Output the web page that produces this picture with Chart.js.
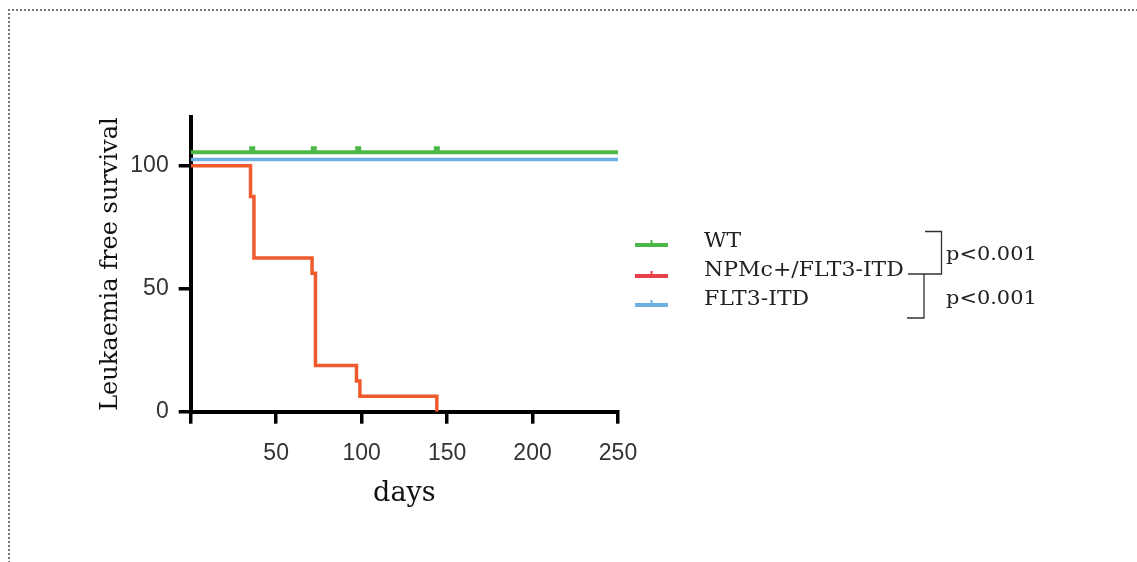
<!DOCTYPE html>
<html>
<head>
<meta charset="utf-8">
<script src="https://cdn.jsdelivr.net/npm/chart.js@4.4.1/dist/chart.umd.min.js"></script>
<style>
  html, body { margin: 0; padding: 0; background: #fff; overflow: hidden; }
  #frame { position: absolute; left: 8px; top: 9px; width: 1300px; height: 700px;
           border-top: 2px dotted #777; border-left: 2px dotted #777; }
  #wrap { position: absolute; left: 0; top: 0; width: 1137px; height: 562px; }
</style>
</head>
<body>
<div id="frame"></div>
<div id="wrap"><canvas id="km"></canvas></div>
<script>
// Kaplan-Meier data
var wtDays = [0, 250];
var wtSurvival = [105.5, 105.5];
var wtCensorDays = [36, 72, 98, 144];

var npmDays = [0, 35, 37, 71, 73, 97, 99, 144];
var npmSurvival = [100, 87.5, 62.5, 56.25, 18.75, 12.5, 6.25, 0];

var flt3Days = [0, 250];
var flt3Survival = [102.5, 102.5];

var xTicks = [0, 50, 100, 150, 200, 250];
var yTicks = [0, 50, 100];

var seriesNames = ['WT', 'NPMc+/FLT3-ITD', 'FLT3-ITD'];
var pValues = ['p<0.001', 'p<0.001'];

var GREEN = '#4cb847';
var RED_LINE = '#f05a2c';
var RED_KEY = '#e84048';
var BLUE = '#6fb0e2';
var SERIF = '"DejaVu Serif", "Liberation Serif", serif';
var SANS = '"Liberation Sans", Arial, sans-serif';

function toPoints(xs, ys) {
    var pts = [];
    for (let i = 0; i < xs.length; i++) {
        pts.push({ x: xs[i], y: ys[i] });
    }
    return pts;
}

// the source font is wider than DejaVu Serif, so stretch it a bit
function wideText(ctx, text, x, y, size) {
    ctx.save();
    ctx.translate(x, y);
    ctx.scale(1.1, 1);
    ctx.font = size + 'px ' + SERIF;
    ctx.textBaseline = 'middle';
    ctx.textAlign = 'left';
    ctx.fillText(text, 0, 0);
    ctx.restore();
}

// legend with tick marks, brackets and p values on the right
var sideLegend = {
    id: 'sideLegend',
    afterDraw: function (chart) {
        var ctx = chart.ctx;
        var colors = [GREEN, RED_KEY, BLUE];
        var symY = [245, 276, 305];
        var textY = [242, 271, 300];
        ctx.save();
        for (let i = 0; i < seriesNames.length; i++) {
            ctx.strokeStyle = colors[i];
            ctx.lineWidth = 4;
            ctx.beginPath();
            ctx.moveTo(635, symY[i]);
            ctx.lineTo(668, symY[i]);
            ctx.stroke();
            ctx.lineWidth = 2;
            ctx.beginPath();
            ctx.moveTo(651.5, symY[i]);
            ctx.lineTo(651.5, symY[i] - 5);
            ctx.stroke();

            ctx.fillStyle = '#222';
            wideText(ctx, seriesNames[i], 704, textY[i], 20);
        }
        ctx.strokeStyle = '#333';
        ctx.lineWidth = 1.3;
        ctx.beginPath();
        ctx.moveTo(925, 231.5);
        ctx.lineTo(941.5, 231.5);
        ctx.lineTo(941.5, 274);
        ctx.lineTo(908, 274);
        ctx.moveTo(924, 274);
        ctx.lineTo(924, 318);
        ctx.lineTo(907, 318);
        ctx.stroke();

        ctx.fillStyle = '#222';
        wideText(ctx, pValues[0], 946, 255, 19);
        wideText(ctx, pValues[1], 946, 299, 19);
        ctx.restore();
    }
};

const ctx = document.getElementById('km').getContext('2d');
var kmChart = new Chart(ctx, {
    type: 'line',
    data: {
        datasets: [
            {
                label: seriesNames[0],
                data: toPoints(wtDays, wtSurvival),
                borderColor: GREEN,
                borderWidth: 4,
                pointRadius: 0,
                stepped: true,
            },
            {
                label: seriesNames[0] + ' censored',
                data: toPoints(wtCensorDays, wtCensorDays.map(() => wtSurvival[0] + 1.4)),
                showLine: false,
                pointStyle: 'line',
                rotation: 90,
                pointRadius: 2.5,
                pointBorderWidth: 6,
                pointBorderColor: GREEN,
            },
            {
                label: seriesNames[2],
                data: toPoints(flt3Days, flt3Survival),
                borderColor: BLUE,
                borderWidth: 3.5,
                pointRadius: 0,
                stepped: true,
            },
            {
                label: seriesNames[1],
                data: toPoints(npmDays, npmSurvival),
                borderColor: RED_LINE,
                borderWidth: 3.5,
                pointRadius: 0,
                stepped: true,
            },
        ],
    },
    options: {
        responsive: true,
        maintainAspectRatio: false,
        animation: false,
        layout: {
            padding: { left: 88, right: 519, top: 116.5, bottom: 48 }
        },
        scales: {
            x: {
                type: 'linear',
                min: 0,
                max: 250,
                afterBuildTicks: (scale) => { scale.ticks = xTicks.map(v => ({ value: v })); },
                afterFit: (scale) => { scale.height = 102.3; },
                border: { display: true, color: '#000', width: 4 },
                grid: { drawOnChartArea: false, drawTicks: true, tickLength: 12, color: '#000', lineWidth: 3.5 },
                ticks: {
                    padding: 16,
                    color: '#333',
                    font: { family: SANS, size: 23 },
                    maxRotation: 0,
                    callback: (val) => val === 0 ? '' : val,
                },
                title: {
                    display: true,
                    text: 'days',
                    color: '#111',
                    font: { family: SERIF, size: 27 },
                    padding: { top: 4, bottom: 4 },
                },
            },
            y: {
                type: 'linear',
                min: 0,
                max: 120,
                afterBuildTicks: (scale) => { scale.ticks = yTicks.map(v => ({ value: v })); },
                afterFit: (scale) => { scale.width = 102.7; },
                border: { display: true, color: '#000', width: 4 },
                grid: { drawOnChartArea: false, drawTicks: true, tickLength: 12, color: '#000', lineWidth: 3.5 },
                ticks: {
                    padding: 10,
                    color: '#333',
                    font: { family: SANS, size: 23 },
                },
                title: {
                    display: true,
                    text: 'Leukaemia free survival',
                    color: '#111',
                    font: { family: SERIF, size: 24 },
                    padding: { top: 8, bottom: 4 },
                },
            },
        },
        plugins: {
            legend: { display: false },
            tooltip: { enabled: false },
        },
    },
    plugins: [sideLegend],
});
</script>
</body>
</html>
